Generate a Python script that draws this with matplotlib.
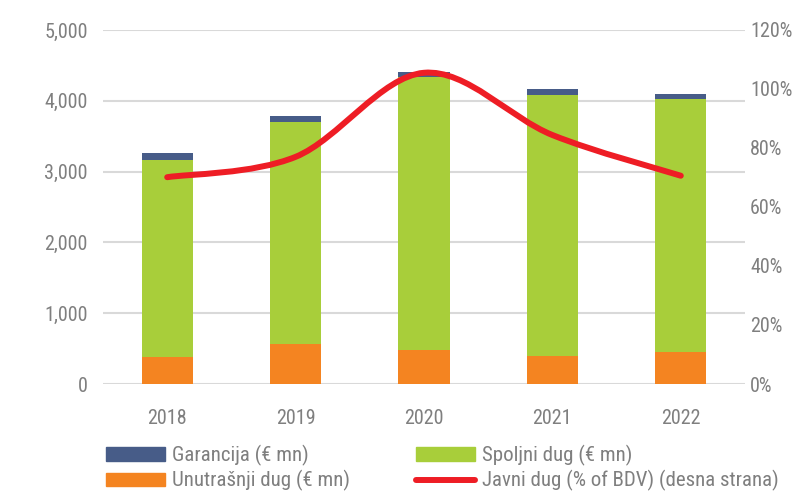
import matplotlib
matplotlib.use("Agg")
import matplotlib.pyplot as plt
from matplotlib import font_manager
from matplotlib.path import Path
from matplotlib.patches import PathPatch, Patch
from matplotlib.lines import Line2D
import numpy as np

names = {f.name for f in font_manager.fontManager.ttflist}
fam = "Roboto Condensed" if "Roboto Condensed" in names else "Roboto"
plt.rcParams['font.family'] = [fam, 'DejaVu Sans']

years = ["2018", "2019", "2020", "2021", "2022"]
unutrasnji = [388, 570, 485, 400, 457]
spoljni = [2770, 3133, 3850, 3685, 3567]
garancija = [110, 85, 75, 80, 79]
javni_pct = [70.1, 77.0, 105.5, 84.4, 70.6]

c_blue = "#475C88"
c_green = "#A8CE3A"
c_orange = "#F48421"
c_red = "#EE1D25"
c_text = "#7F7F7F"
c_grid = "#D9D9D9"
fs = 14.5
fs_leg = 15

fig = plt.figure(figsize=(7.96, 4.92), dpi=100)
ax = fig.add_axes([103/796, 1-384/492, 642/796, 354/492])
x = np.arange(len(years))
w = 0.4
b1 = np.array(unutrasnji)
b2 = b1 + np.array(spoljni)
ax.bar(x, unutrasnji, w, color=c_orange, zorder=2)
ax.bar(x, spoljni, w, bottom=b1, color=c_green, zorder=2)
ax.bar(x, garancija, w, bottom=b2, color=c_blue, zorder=2)
ax.set_xlim(-0.5, 4.5)
ax.set_ylim(0, 5000)
ax.set_yticks(range(0, 5001, 1000))
ax.set_yticklabels([f"{v:,}" for v in range(0, 5001, 1000)])
ax.set_xticks(x)
ax.set_xticklabels(years)
ax.yaxis.grid(True, color=c_grid, lw=1.5, zorder=0)
ax.set_axisbelow(True)
for s in ax.spines.values():
    s.set_visible(False)
ax.tick_params(axis='both', length=0, labelsize=fs, colors=c_text)
ax.tick_params(axis='y', pad=11)
ax.tick_params(axis='x', pad=18)

ax2 = ax.twinx()
ax2.set_ylim(0, 120)
ax2.set_yticks(range(0, 121, 20))
ax2.set_yticklabels([f"{v}%" for v in range(0, 121, 20)])
for s in ax2.spines.values():
    s.set_visible(False)
ax2.tick_params(axis='y', length=0, labelsize=fs, colors=c_text, pad=3.6)

# Excel-style smoothed line (Bezier through data points)
P = np.column_stack([x, javni_pct]).astype(float)
n = len(P)
verts = [tuple(P[0])]
codes = [Path.MOVETO]
for i in range(n - 1):
    p0 = P[i - 1] if i > 0 else P[i]
    p1 = P[i]
    p2 = P[i + 1]
    p3 = P[i + 2] if i + 2 < n else P[i + 1]
    c1 = p1 + (p2 - p0) / 6
    c2 = p2 - (p3 - p1) / 6
    verts += [tuple(c1), tuple(c2), tuple(p2)]
    codes += [Path.CURVE4] * 3
ax2.add_patch(PathPatch(Path(verts, codes), fill=False, edgecolor=c_red,
                        lw=4.3, capstyle='round', zorder=3))

handles = [Patch(color=c_blue), Patch(color=c_orange),
           Patch(color=c_green), Line2D([], [], color=c_red, lw=4.3, solid_capstyle='round')]
labels = ["Garancija (€ mn)", "Unutrašnji dug (€ mn)",
          "Spoljni dug (€ mn)", "Javni dug (% of BDV) (desna strana)"]
fig.legend(handles, labels, ncol=2, loc='upper left', bbox_to_anchor=(106/796, 1-445/492),
           frameon=False, fontsize=fs_leg, labelcolor=c_text, handlelength=2.85,
           handleheight=0.62, handletextpad=0.33, columnspacing=3.15, labelspacing=0.2,
           borderaxespad=0, borderpad=0)

fig.savefig("out.png", dpi=100)
